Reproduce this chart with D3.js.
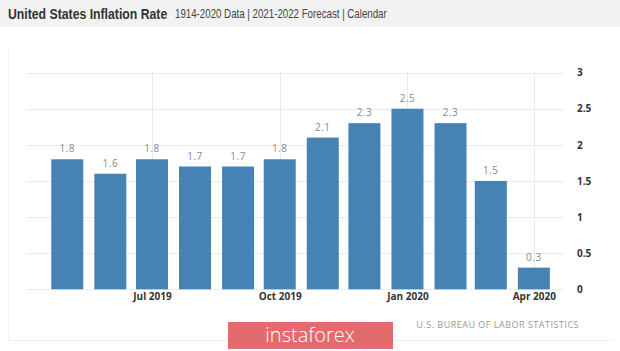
<!DOCTYPE html>
<html>
<head>
<meta charset="utf-8">
<script src="https://cdn.jsdelivr.net/npm/d3@7"></script>
<style>
  body { margin: 0; background: #fff; }
  svg { display: block; font-family: "Open Sans", "DejaVu Sans", sans-serif; }
</style>
</head>
<body>
<div id="wrapper"></div>
<script>
// data
const months = ["2019-05", "2019-06", "2019-07", "2019-08", "2019-09", "2019-10",
                "2019-11", "2019-12", "2020-01", "2020-02", "2020-03", "2020-04"];
const rates = [1.8, 1.6, 1.8, 1.7, 1.7, 1.8, 2.1, 2.3, 2.5, 2.3, 1.5, 0.3];
const xTickDates = ["2019-07", "2019-10", "2020-01", "2020-04"];
const yTicks = [0, 0.5, 1, 1.5, 2, 2.5, 3];

const parseMonth = d3.timeParse("%Y-%m");
const dataset = months.map((m, i) => ({ date: parseMonth(m), value: rates[i] }));

const width = 620;
const height = 351;

const wrapper = d3.select("#wrapper")
  .append("svg")
    .attr("width", width)
    .attr("height", height);

// header band
wrapper.append("rect")
    .attr("width", width)
    .attr("height", 27)
    .attr("fill", "#f2f2f2");

// the header font is narrow, so squeeze the text horizontally
wrapper.append("text")
    .attr("transform", "translate(8,19) scale(0.817,1)")
    .style("font-family", "'Liberation Sans', Arial, sans-serif")
    .attr("font-weight", "bold")
    .attr("font-size", 15)
    .attr("fill", "#333")
    .text("United States Inflation Rate");

wrapper.append("text")
    .attr("transform", "translate(175,18) scale(0.81,1)")
    .style("font-family", "'Liberation Sans', Arial, sans-serif")
    .attr("font-size", 12)
    .attr("fill", "#444")
    .text("1914-2020 Data | 2021-2022 Forecast | Calendar");

// faint frame
wrapper.append("path")
    .attr("d", "M8.5,50 V340.5 H612")
    .attr("fill", "none")
    .attr("stroke", "#f1f1f1");

// scales
const x = d3.scaleTime()
    .domain([new Date(2019, 3, 2), new Date(2020, 3, 22)])
    .range([27, 563]);

const y = d3.scaleLinear()
    .domain([0, 3])
    .range([289.3, 72.6]);

const barWidth = 32;

// grid
const grid = wrapper.append("g");
grid.selectAll(".hgrid")
  .data(yTicks)
  .join("line")
    .attr("x1", 27)
    .attr("x2", 563)
    .attr("y1", d => Math.round(y(d)) + 0.5)
    .attr("y2", d => Math.round(y(d)) + 0.5)
    .attr("stroke", "#ebebeb");

grid.selectAll(".vgrid")
  .data(xTickDates.map(parseMonth))
  .join("line")
    .attr("x1", d => Math.round(x(d)) + 0.5)
    .attr("x2", d => Math.round(x(d)) + 0.5)
    .attr("y1", 72)
    .attr("y2", 290)
    .attr("stroke", "#ebebeb");

// bars
wrapper.append("g")
  .selectAll("rect")
  .data(dataset)
  .join("rect")
    .attr("x", d => x(d.date) - barWidth / 2)
    .attr("y", d => y(d.value))
    .attr("width", barWidth)
    .attr("height", d => y(0) - y(d.value))
    .attr("fill", "#4682b4");

// value labels
wrapper.append("g")
  .selectAll("text")
  .data(dataset)
  .join("text")
    .attr("x", d => x(d.date))
    .attr("y", d => y(d.value) - 7)
    .attr("text-anchor", "middle")
    .attr("font-size", 10)
    .attr("letter-spacing", 0.5)
    .attr("fill", "#8a8a8a")
    .text(d => d.value.toFixed(1));

// y axis (right)
const yAxis = d3.axisRight(y)
    .tickValues(yTicks)
    .tickSize(0)
    .tickPadding(0)
    .tickFormat(d3.format("~g"));

const yAxisGroup = wrapper.append("g")
    .attr("transform", "translate(577,0)")
    .call(yAxis);
yAxisGroup.select(".domain").remove();
yAxisGroup.selectAll("text")
    .attr("font-family", "Open Sans, sans-serif")
    .attr("font-size", 10)
    .attr("font-weight", "bold")
    .attr("fill", "#333");

// x axis
const xAxis = d3.axisBottom(x)
    .tickValues(xTickDates.map(parseMonth))
    .tickSize(0)
    .tickPadding(0)
    .tickFormat(d3.timeFormat("%b %Y"));

const xAxisGroup = wrapper.append("g")
    .attr("transform", "translate(0,293)")
    .call(xAxis);
xAxisGroup.select(".domain").remove();
xAxisGroup.selectAll("text")
    .attr("font-family", "Open Sans, sans-serif")
    .attr("font-size", 10)
    .attr("font-weight", "bold")
    .attr("fill", "#333");

// source
wrapper.append("text")
    .attr("x", 579)
    .attr("y", 327.5)
    .attr("text-anchor", "end")
    .attr("font-size", 9)
    .attr("letter-spacing", 0.5)
    .attr("fill", "#999")
    .text("U.S. BUREAU OF LABOR STATISTICS");

// watermark banner
wrapper.append("rect")
    .attr("x", 228)
    .attr("y", 322)
    .attr("width", 165)
    .attr("height", 27)
    .attr("fill", "#e36b6e");

wrapper.append("text")
    .attr("x", 310)
    .attr("y", 342)
    .attr("text-anchor", "middle")
    .attr("font-family", "Open Sans, sans-serif")
    .attr("font-weight", 300)
    .attr("font-size", 20)
    .attr("fill", "#fff")
    .text("instaforex");
</script>
</body>
</html>
